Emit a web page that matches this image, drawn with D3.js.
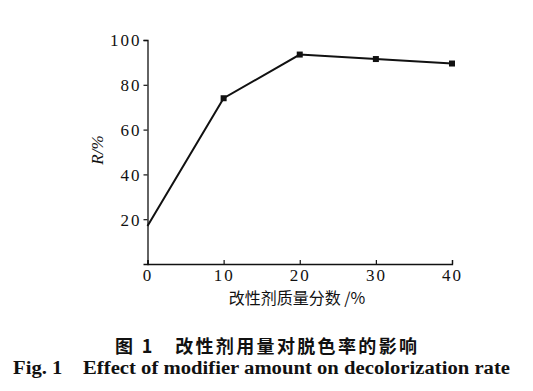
<!DOCTYPE html>
<html><head><meta charset="utf-8">
<script src="https://cdn.jsdelivr.net/npm/d3@7"></script>
<style>body{margin:0;background:#fff}svg{display:block}</style>
</head><body>
<script>
const xValues = [0, 10, 20, 30, 40];
const rValues = [17, 74, 93.5, 91.5, 89.5];
const xTicks = [0, 10, 20, 30, 40];
const yTicks = [20, 40, 60, 80, 100];
const xLabel = "改性剂质量分数 /%";
const yLabel = "R/%";
const captionCN = "图 1　改性剂用量对脱色率的影响";
const captionEN = "Fig. 1    Effect of modifier amount on decolorization rate";

const W = 533, H = 391;
const svg = d3.select("body").append("svg").attr("width", W).attr("height", H);
const x = d3.scaleLinear().domain([0, 40]).range([147.5, 452]);
const y = d3.scaleLinear().domain([0, 100]).range([264, 40]);
const serif = "'Liberation Serif','Times New Roman',serif";

const gx = svg.append("g").attr("transform", "translate(0,264)")
  .call(d3.axisBottom(x).tickValues(xTicks).tickSize(-4).tickPadding(5).tickFormat(d3.format("d")));
const gy = svg.append("g").attr("transform", "translate(147.5,0)")
  .call(d3.axisLeft(y).tickValues(yTicks).tickSize(4).tickPadding(2).tickFormat(d3.format("d")));
[gx, gy].forEach(g => {
  g.attr("font-family", null).attr("font-size", null);
  g.select(".domain").attr("stroke", "#111").attr("stroke-width", 1.3);
  g.selectAll(".tick line").attr("stroke", "#111").attr("stroke-width", 1.2);
  g.selectAll(".tick text").attr("fill", "#111").style("font-family", serif)
    .style("font-size", "17px").style("letter-spacing", "2px");
});
gx.selectAll(".tick text").attr("dy", "0.71em");
gy.selectAll(".tick text").attr("dy", "0.35em");

svg.append("path").datum(xValues.map((v, i) => [v, rValues[i]]))
  .attr("fill", "none").attr("stroke", "#111").attr("stroke-width", 2)
  .attr("d", d3.line().x(d => x(d[0])).y(d => y(d[1])));

svg.selectAll("rect.m").data(xValues.slice(1).map((v, i) => [v, rValues[i + 1]]))
  .enter().append("rect").attr("class", "m")
  .attr("x", d => x(d[0]) - 3).attr("y", d => y(d[1]) - 3)
  .attr("width", 6).attr("height", 6).attr("fill", "#111");

svg.append("text").attr("x", 297).attr("y", 304).attr("text-anchor", "middle")
  .style("font-family", "'Noto Sans CJK SC',sans-serif").style("font-size", "16px")
  .attr("fill", "#111").text(xLabel);

svg.append("text").attr("transform", "translate(103,150) rotate(-90)")
  .attr("text-anchor", "middle").style("font-family", serif).style("font-size", "17px")
  .style("font-style", "italic").attr("fill", "#111").text(yLabel);

svg.append("text").attr("x", 115).attr("y", 353)
  .attr("textLength", 302).attr("lengthAdjust", "spacing")
  .style("font-family", "'Noto Sans CJK SC',sans-serif").style("font-size", "18px")
  .style("font-weight", "bold").attr("fill", "#111").text(captionCN);

svg.append("text").attr("x", 13).attr("y", 374)
  .attr("textLength", 497).attr("lengthAdjust", "spacingAndGlyphs")
  .style("font-family", serif).style("font-size", "18px").style("font-weight", "bold")
  .attr("fill", "#111").attr("xml:space", "preserve").text(captionEN);
</script>
</body></html>
